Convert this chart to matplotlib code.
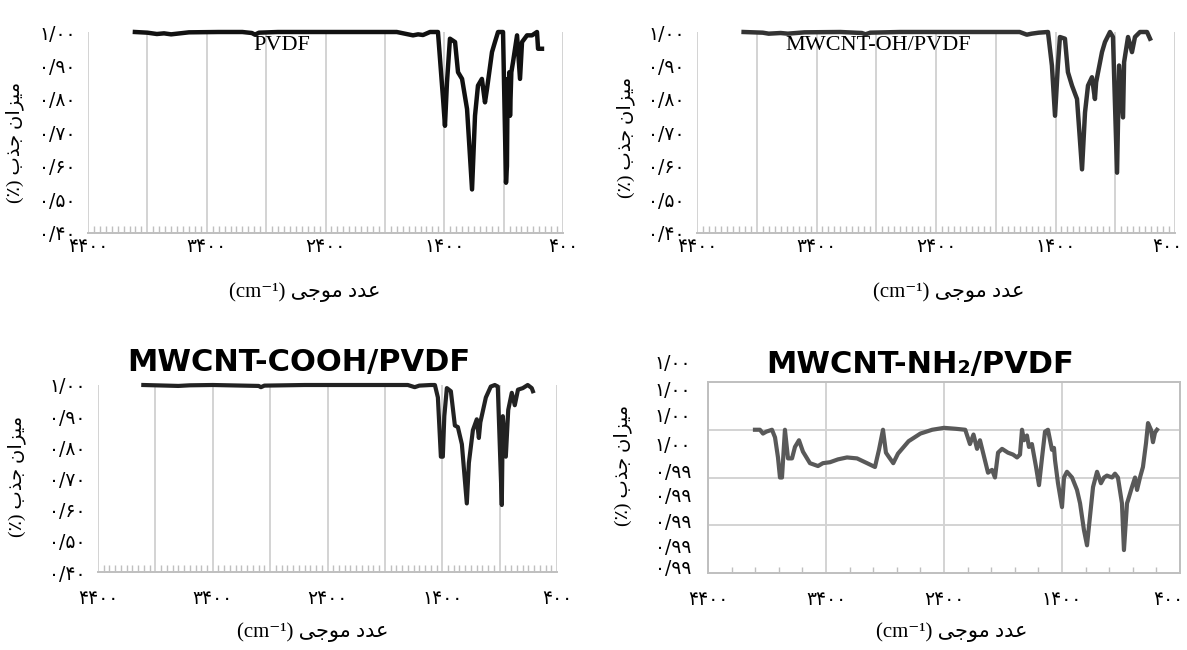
import numpy as np
import matplotlib
matplotlib.use('Agg')
import matplotlib.pyplot as plt
from matplotlib.ticker import MultipleLocator, FixedLocator
from matplotlib.transforms import blended_transform_factory, ScaledTranslation

# ---------------- data ----------------
# PVDF
wn_pvdf = [4005, 3900, 3820, 3760, 3700, 3650, 3550, 3300, 3100, 3020, 2994, 2960, 2800, 2400,
           2000, 1800, 1663, 1620, 1579, 1520, 1453, 1410, 1394, 1377, 1352, 1309, 1284, 1250,
           1208, 1166, 1141, 1116, 1083, 1057, 1040, 998, 973, 947, 905, 880, 872, 866, 858,
           852, 846, 835, 821, 787, 762, 745, 703, 661, 619, 610, 577]
ab_pvdf = [1.00, 0.998, 0.994, 0.996, 0.993, 0.995, 0.999, 1.00, 1.00, 0.997, 0.992, 0.998, 1.00, 1.00,
           1.00, 1.00, 0.99, 0.993, 0.991, 1.00, 1.00, 0.80, 0.72, 0.85, 0.98, 0.97, 0.88, 0.86,
           0.77, 0.53, 0.75, 0.84, 0.86, 0.79, 0.83, 0.94, 0.97, 1.00, 1.00, 0.55, 0.60, 0.86, 0.75,
           0.88, 0.75, 0.88, 0.91, 0.99, 0.86, 0.97, 0.99, 0.99, 1.00, 0.95, 0.95]

# MWCNT-OH/PVDF
wn_oh = [4010, 3850, 3800, 3700, 3640, 3500, 3200, 3020, 2990, 2950, 2700, 2300, 1900, 1700,
         1640, 1600, 1540, 1463, 1430, 1404, 1380, 1363, 1321, 1296, 1262, 1220, 1178, 1153,
         1128, 1095, 1070, 1060, 1011, 986, 944, 919, 885, 868, 835, 826, 793, 760, 735, 693,
         634, 609]
ab_oh = [1.00, 0.998, 0.995, 0.997, 0.995, 0.999, 1.00, 0.997, 0.993, 0.998, 1.00, 1.00, 1.00, 1.00,
         0.992, 0.995, 0.998, 1.00, 0.90, 0.75, 0.90, 0.985, 0.98, 0.88, 0.84, 0.80, 0.59, 0.76,
         0.84, 0.865, 0.80, 0.85, 0.94, 0.97, 1.00, 0.985, 0.58, 0.90, 0.745, 0.91, 0.985, 0.94,
         0.985, 1.00, 1.00, 0.98]

# MWCNT-COOH/PVDF
wn_cooh = [4005, 3800, 3700, 3600, 3400, 3000, 2980, 2950, 2600, 2000, 1700, 1640, 1600, 1500,
           1464, 1438, 1412, 1395, 1382, 1360, 1325, 1290, 1264, 1229, 1186, 1168, 1133, 1099,
           1081, 1068, 1020, 977, 942, 916, 881, 872, 846, 825, 794, 768, 740, 698, 655, 620, 610]
ab_cooh = [1.00, 0.998, 0.997, 0.999, 1.00, 0.997, 0.993, 0.998, 1.00, 1.00, 1.00, 0.993, 0.998, 1.00,
           1.00, 0.96, 0.77, 0.77, 0.90, 0.99, 0.98, 0.87, 0.865, 0.81, 0.62, 0.75, 0.855, 0.89,
           0.83, 0.88, 0.96, 0.995, 1.00, 0.995, 0.615, 0.90, 0.77, 0.92, 0.975, 0.935, 0.985, 0.99,
           1.00, 0.99, 0.98]

# MWCNT-NH2/PVDF
wn_nh2 = [4002, 3960, 3934, 3906, 3858, 3832, 3807, 3790, 3773, 3748, 3722, 3688, 3663, 3629,
          3595, 3536, 3468, 3426, 3366, 3298, 3222, 3137, 3052, 2985, 2951, 2917, 2892, 2870,
          2830, 2790, 2700, 2600, 2500, 2400, 2300, 2220, 2180, 2150, 2120, 2095, 2053, 2027,
          1993, 1968, 1942, 1908, 1858, 1815, 1781, 1756, 1739, 1722, 1697, 1680, 1655, 1620,
          1595, 1569, 1544, 1519, 1485, 1468, 1459, 1434, 1400, 1383, 1358, 1315, 1273, 1247,
          1214, 1188, 1163, 1137, 1103, 1070, 1044, 1019, 976, 951, 926, 892, 875, 849, 841,
          807, 781, 764, 739, 714, 688, 671, 646, 629, 612, 595]
ab_nh2 = [0.99950, 0.99950, 0.99946, 0.99948, 0.99950, 0.99942, 0.99921, 0.99900, 0.99900, 0.99950,
          0.99920, 0.99920, 0.99932, 0.99939, 0.99927, 0.99915, 0.99912, 0.99915, 0.99916, 0.99919,
          0.99921, 0.99920, 0.99915, 0.99911, 0.99929, 0.99950, 0.99926, 0.99922, 0.99915, 0.99925,
          0.99938, 0.99946, 0.99950, 0.99952, 0.99951, 0.99950, 0.99935, 0.99945, 0.99930, 0.99939,
          0.99918, 0.99905, 0.99908, 0.99900, 0.99926, 0.99930, 0.99926, 0.99924, 0.99921, 0.99924,
          0.99950, 0.99939, 0.99944, 0.99932, 0.99935, 0.99911, 0.99892, 0.99921, 0.99948, 0.99950,
          0.99929, 0.99931, 0.99918, 0.99894, 0.99869, 0.99900, 0.99906, 0.99900, 0.99887, 0.99873,
          0.99845, 0.99829, 0.99859, 0.99890, 0.99906, 0.99894, 0.99900, 0.99902, 0.99900, 0.99904,
          0.99900, 0.99873, 0.99824, 0.99873, 0.99876, 0.99890, 0.99900, 0.99887, 0.99900, 0.99911,
          0.99936, 0.99957, 0.99950, 0.99937, 0.99947, 0.99950]

# tick labels (Persian digits)
xtick_vals = [4400, 3900, 3400, 2900, 2400, 1900, 1400, 900, 400]
xtick_text = ['\u06F4\u06F4\u06F0\u06F0', '', '\u06F3\u06F4\u06F0\u06F0', '',
              '\u06F2\u06F4\u06F0\u06F0', '', '\u06F1\u06F4\u06F0\u06F0', '', '\u06F4\u06F0\u06F0']
ytick_vals = [0.4, 0.5, 0.6, 0.7, 0.8, 0.9, 1.0]
ytick_text = ['\u06F0/\u06F4\u06F0', '\u06F0/\u06F5\u06F0', '\u06F0/\u06F6\u06F0', '\u06F0/\u06F7\u06F0',
              '\u06F0/\u06F8\u06F0', '\u06F0/\u06F9\u06F0', '\u06F1/\u06F0\u06F0']
nh2_xtick_vals = [4400, 3400, 2400, 1400, 400]
nh2_xtick_text = ['\u06F4\u06F4\u06F0\u06F0', '\u06F3\u06F4\u06F0\u06F0', '\u06F2\u06F4\u06F0\u06F0',
                  '\u06F1\u06F4\u06F0\u06F0', '\u06F4\u06F0\u06F0']
nh2_ylabels = ['\u06F1/\u06F0\u06F0'] * 4 + ['\u06F0/\u06F9\u06F9'] * 5

titles = ['PVDF', 'MWCNT-OH/PVDF', 'MWCNT-COOH/PVDF', 'MWCNT-NH\u2082/PVDF']

# Persian labels in visual (left-to-right) order with presentation forms
ylabel_fa = '(\u066A) \uFE8F\uFEAC\uFE9F \uFEE5\uFE8D\uFEB0\uFEF4\uFEE3'
xlabel_fa = '(cm\u207B\u00B9) \uFEF0\uFE9F\uFEEE\uFEE3 \uFEA9\uFEAA\uFECB'

# ---------------- figure ----------------
W, H = 1187, 650
fig = plt.figure(figsize=(W / 100, H / 100), dpi=100)
FA = ['DejaVu Sans']
SERIF = ['Liberation Serif', 'DejaVu Sans']
GRID = '#d3d3d3'
AXC = '#bfbfbf'
XT_FS = 13.5
YT_FS = 13.5


def box(l, t, r, b):
    return [l / W, 1 - b / H, (r - l) / W, (b - t) / H]


def ftext(x, y, s, **kw):
    fig.text(x / W, 1 - y / H, s, **kw)


def nudge_last_xlabel(ax, dx_px):
    lab = ax.get_xticklabels()[-1]
    lab.set_transform(lab.get_transform() + ScaledTranslation(dx_px / 100, 0, fig.dpi_scale_trans))


def style_ir(ax, xpad):
    ax.set_xlim(4400, 400)
    ax.set_ylim(0.4, 1.0)
    ax.set_xticks(xtick_vals)
    ax.set_xticklabels(xtick_text, fontsize=XT_FS, family=FA)
    ax.xaxis.set_minor_locator(MultipleLocator(50))
    ax.tick_params(axis='x', which='major', length=0, pad=xpad)
    ax.tick_params(axis='x', which='minor', direction='in', length=5, width=1, color=AXC)
    ax.grid(axis='x', which='major', color=GRID, lw=1.4)
    ax.set_yticks(ytick_vals)
    ax.set_yticklabels(ytick_text, fontsize=YT_FS, family=FA)
    ax.tick_params(axis='y', length=0, pad=9)
    for s in ['top', 'right', 'left']:
        ax.spines[s].set_visible(False)
    ax.spines['bottom'].set_color(AXC)
    ax.spines['bottom'].set_linewidth(1.4)
    ax.set_axisbelow(True)


# panel 1
ax1 = fig.add_axes(box(88, 32, 563, 233))
style_ir(ax1, 3)
ax1.plot(wn_pvdf, ab_pvdf, color='#111111', lw=3.2, solid_joinstyle='round', clip_on=False)
ftext(282, 46, titles[0], family=SERIF, fontsize=16, ha='center', va='center')

# panel 2
ax2 = fig.add_axes(box(697, 32, 1175, 233))
style_ir(ax2, 3)
nudge_last_xlabel(ax2, -8)
ax2.plot(wn_oh, ab_oh, color='#333333', lw=3.2, solid_joinstyle='round', clip_on=False)
ftext(878, 46, titles[1], family=SERIF, fontsize=16, ha='center', va='center')

# panel 3
ax3 = fig.add_axes(box(98, 385, 557, 572))
style_ir(ax3, 12)
ax3.plot(wn_cooh, ab_cooh, color='#222222', lw=3.0, solid_joinstyle='round', clip_on=False)
ftext(299, 363, titles[2], family=['DejaVu Sans'], fontweight='bold', fontsize=22,
      ha='center', va='center')

# panel 4
ax4 = fig.add_axes(box(708, 382, 1180, 573))
ax4.set_xlim(4400, 400)
ax4.set_ylim(0.9980, 1.0000)
ax4.set_xticks(nh2_xtick_vals)
ax4.set_xticklabels(nh2_xtick_text, fontsize=XT_FS, family=FA)
ax4.xaxis.set_minor_locator(MultipleLocator(200))
ax4.tick_params(axis='x', which='major', length=0, pad=12)
ax4.tick_params(axis='x', which='minor', direction='in', length=4, width=1, color=AXC)
ax4.yaxis.set_major_locator(FixedLocator([0.9985, 0.9990, 0.9995]))
ax4.set_yticklabels([])
ax4.tick_params(axis='y', length=0)
nudge_last_xlabel(ax4, -12)
ax4.grid(True, which='major', color=GRID, lw=1.4)
for s in ax4.spines.values():
    s.set_color(AXC)
    s.set_linewidth(1.4)
ax4.set_axisbelow(True)
ax4.plot(wn_nh2, ab_nh2, color='#595959', lw=3.0, solid_joinstyle='round')
trans = blended_transform_factory(ax4.transAxes, ax4.transAxes)
ylab_pos = [1.099, 0.958, 0.817, 0.670, 0.524, 0.398, 0.262, 0.131, 0.021]
for yp, lab in zip(ylab_pos, nh2_ylabels):
    ax4.text(-0.036, yp, lab, transform=trans, ha='right', va='center', fontsize=YT_FS,
             family=FA, clip_on=False)
ftext(920, 364, titles[3], family=['DejaVu Sans'], fontweight='bold', fontsize=22,
      ha='center', va='center')

# axis labels
ftext(15, 142, ylabel_fa, family=SERIF, fontsize=14, rotation=90, ha='center', va='center')
ftext(626, 137, ylabel_fa, family=SERIF, fontsize=14, rotation=90, ha='center', va='center')
ftext(17, 476, ylabel_fa, family=SERIF, fontsize=14, rotation=90, ha='center', va='center')
ftext(623, 465, ylabel_fa, family=SERIF, fontsize=14, rotation=90, ha='center', va='center')

ftext(305, 292, xlabel_fa, family=SERIF, fontsize=15, ha='center', va='center')
ftext(949, 292, xlabel_fa, family=SERIF, fontsize=15, ha='center', va='center')
ftext(313, 632, xlabel_fa, family=SERIF, fontsize=15, ha='center', va='center')
ftext(952, 632, xlabel_fa, family=SERIF, fontsize=15, ha='center', va='center')

fig.savefig('out.png', dpi=100, facecolor='white')
